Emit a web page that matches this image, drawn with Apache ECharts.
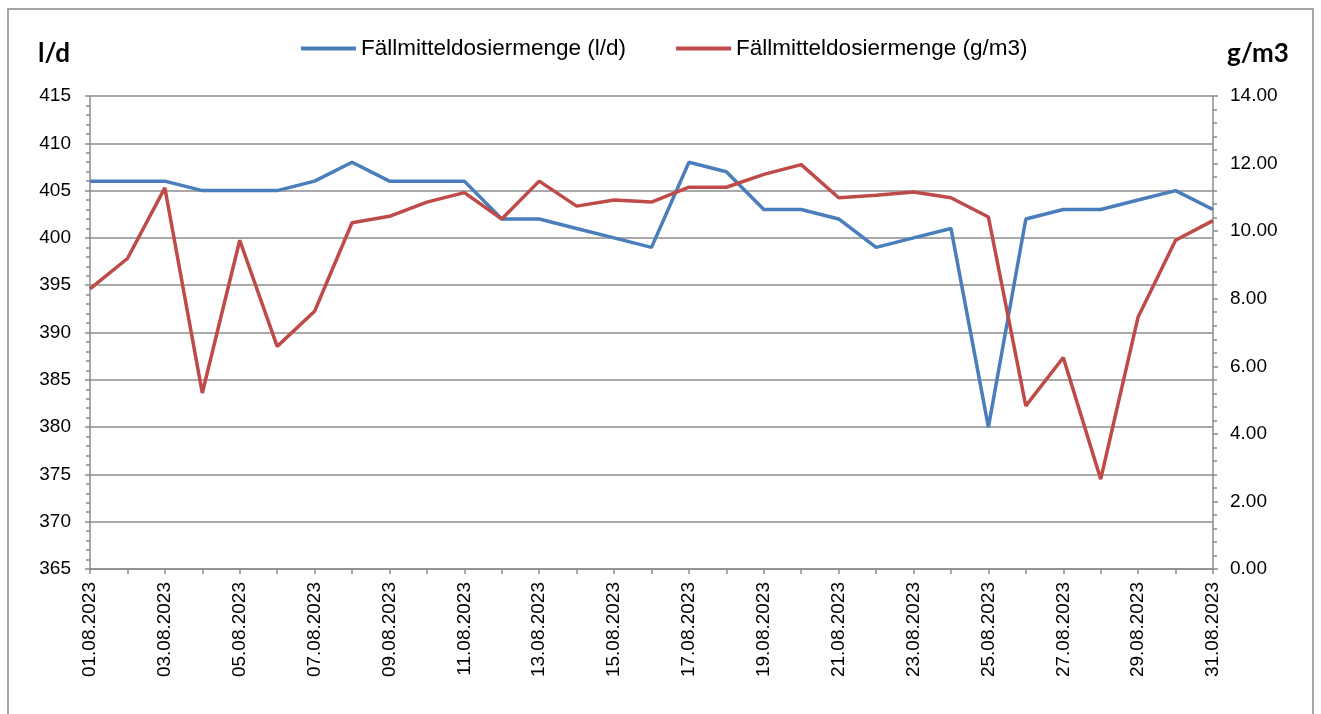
<!DOCTYPE html>
<html>
<head>
<meta charset="utf-8">
<script src="https://cdn.jsdelivr.net/npm/echarts@6/dist/echarts.min.js"></script>
<style>
  html, body { margin: 0; padding: 0; background: #fff; }
  #chart { width: 1321px; height: 714px; }
</style>
</head>
<body>
<div id="chart"></div>
<script>
// Tage im August 2023
var days = [
  '01.08.2023', '02.08.2023', '03.08.2023', '04.08.2023', '05.08.2023', '06.08.2023',
  '07.08.2023', '08.08.2023', '09.08.2023', '10.08.2023', '11.08.2023', '12.08.2023',
  '13.08.2023', '14.08.2023', '15.08.2023', '16.08.2023', '17.08.2023', '18.08.2023',
  '19.08.2023', '20.08.2023', '21.08.2023', '22.08.2023', '23.08.2023', '24.08.2023',
  '25.08.2023', '26.08.2023', '27.08.2023', '28.08.2023', '29.08.2023', '30.08.2023',
  '31.08.2023'
]
// Fällmitteldosiermenge (l/d)
var dosisLd = [
  406, 406, 406, 405, 405, 405, 406, 408, 406, 406, 406, 402, 402, 401, 400, 399,
  408, 407, 403, 403, 402, 399, 400, 401, 380, 402, 403, 403, 404, 405, 403
]
// Fällmitteldosiermenge (g/m3)
var dosisGm3 = [
  8.29, 9.19, 11.28, 5.21, 9.73, 6.59, 7.63, 10.25, 10.44, 10.86, 11.14, 10.36,
  11.48, 10.74, 10.92, 10.86, 11.30, 11.30, 11.68, 11.97, 10.99, 11.06, 11.16,
  10.99, 10.42, 4.83, 6.26, 2.66, 7.46, 9.73, 10.31
]
var nameLd = 'Fällmitteldosiermenge (l/d)'
var nameGm3 = 'Fällmitteldosiermenge (g/m3)'

var font = "'Liberation Sans', Arial, sans-serif"
var axisGrey = '#8c8c8c'

var chart = echarts.init(document.getElementById('chart'))
chart.setOption({
  animation: false,
  textStyle: { fontFamily: font, color: '#000' },
  graphic: [{
    type: 'rect',
    shape: { x: 8, y: 9, width: 1305, height: 730 },
    style: { fill: 'none', stroke: '#a6a6a6', lineWidth: 2 }
  }],
  title: [
    { text: 'l/d', left: 33, top: 36, textStyle: { fontFamily: 'Lato', fontWeight: 'bold', fontSize: 26, color: '#000' } },
    { text: 'g/m3', left: 1222, top: 36, textStyle: { fontFamily: 'Lato', fontWeight: 'bold', fontSize: 26, color: '#000' } }
  ],
  legend: {
    left: 296,
    top: 32,
    itemWidth: 55,
    itemHeight: 4,
    itemGap: 50,
    icon: 'rect',
    textStyle: { fontFamily: font, fontSize: 22.5, color: '#000' },
    data: [nameLd, nameGm3]
  },
  grid: { left: 90, right: 108, top: 96, bottom: 145 },
  xAxis: {
    type: 'category',
    data: days,
    boundaryGap: false,
    axisLine: { lineStyle: { color: axisGrey, width: 1.5 } },
    axisTick: { interval: 0, length: 5, lineStyle: { color: axisGrey, width: 1.5 } },
    axisLabel: { interval: 1, rotate: 90, fontSize: 19, color: '#000', margin: 13 }
  },
  yAxis: [{
    type: 'value',
    min: 365,
    max: 415,
    interval: 5,
    axisLine: { show: true, lineStyle: { color: axisGrey, width: 1.5 } },
    axisTick: { show: true, length: 5, lineStyle: { color: axisGrey, width: 1.5 } },
    minorTick: { show: true, splitNumber: 5, length: 4, lineStyle: { color: axisGrey, width: 1.5 } },
    splitLine: { lineStyle: { color: axisGrey, width: 1.5 } },
    axisLabel: { fontSize: 19, color: '#000', margin: 19 }
  }, {
    type: 'value',
    min: 0,
    max: 14,
    interval: 2,
    position: 'right',
    axisLine: { show: true, lineStyle: { color: axisGrey, width: 1.5 } },
    axisTick: { show: true, length: 5, lineStyle: { color: axisGrey, width: 1.5 } },
    minorTick: { show: true, splitNumber: 5, length: 4, lineStyle: { color: axisGrey, width: 1.5 } },
    splitLine: { show: false },
    axisLabel: { fontSize: 19, color: '#000', margin: 17, formatter: function (v) { return v.toFixed(2) } }
  }],
  series: [{
    name: nameLd,
    type: 'line',
    data: dosisLd,
    yAxisIndex: 0,
    symbol: 'none',
    color: '#4a7ebb',
    lineStyle: { width: 3.5, color: '#4a7ebb' }
  }, {
    name: nameGm3,
    type: 'line',
    data: dosisGm3,
    yAxisIndex: 1,
    symbol: 'none',
    color: '#be4b48',
    lineStyle: { width: 3.5, color: '#be4b48' },
    z: 3
  }]
})
</script>
</body>
</html>
